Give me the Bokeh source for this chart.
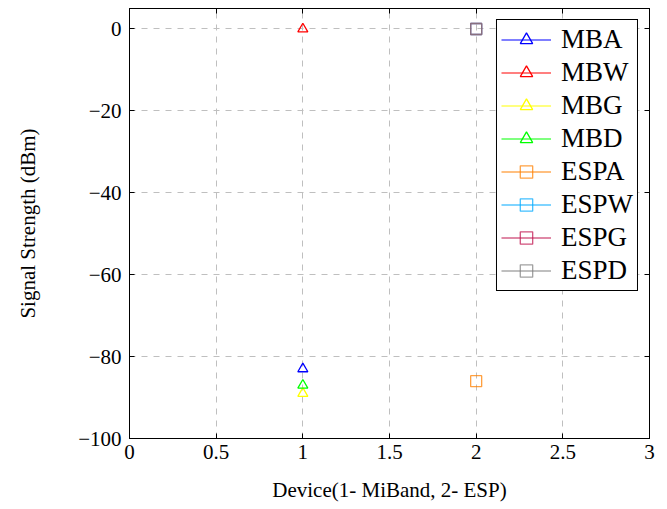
from bokeh.plotting import figure
from bokeh.models import (ColumnDataSource, Legend, LegendItem, LinearAxis, Range1d,
                          CustomJSTickFormatter, FixedTicker)
from bokeh.embed import file_html
from bokeh.resources import INLINE

names = ["MBA", "MBW", "MBG", "MBD", "ESPA", "ESPW", "ESPG", "ESPD"]
xs = [1, 1, 1, 1, 2, 2, 2, 2]
ys = [-83, 0, -89, -87, -86, 0, 0, 0]
colors = ["#0000ff", "#ff0000", "#ffff00", "#00ff00", "#ff8000", "#00aaff", "#c0144f", "#808080"]
markers = ["triangle"] * 4 + ["square"] * 4
x_ticks = [0, 0.5, 1, 1.5, 2, 2.5, 3]
y_ticks = [-100, -80, -60, -40, -20, 0]

FONT = "Liberation Serif"

p = figure(width=660, height=509, output_backend="svg", toolbar_location=None,
           x_range=Range1d(0, 3), y_range=Range1d(-100, 5),
           min_border_left=129, min_border_right=11, min_border_top=8, min_border_bottom=71)
p.outline_line_color = "black"
p.outline_line_width = 1
p.background_fill_color = "white"

for ax in (p.xaxis[0], p.yaxis[0]):
    ax.major_label_text_font = FONT
    ax.major_label_text_font_size = "21px"
    ax.major_label_text_color = "black"
    ax.axis_label_text_font = FONT
    ax.axis_label_text_font_size = "21px"
    ax.axis_label_text_font_style = "normal"
    ax.axis_label_text_color = "black"
    ax.major_tick_in = 5
    ax.major_tick_out = 0
    ax.minor_tick_line_color = None
    ax.axis_line_color = "black"
    ax.major_tick_line_color = "black"

p.xaxis[0].ticker = FixedTicker(ticks=x_ticks)
p.yaxis[0].ticker = FixedTicker(ticks=y_ticks)
p.xaxis[0].axis_label = "Device(1- MiBand, 2- ESP)"
p.yaxis[0].axis_label = "Signal Strength (dBm)"
p.xaxis[0].major_label_standoff = 6
p.yaxis[0].major_label_standoff = 8
p.xaxis[0].axis_label_standoff = 16
p.yaxis[0].axis_label_standoff = 35
p.yaxis[0].formatter = CustomJSTickFormatter(
    code="return tick < 0 ? '\u2212' + Math.abs(tick) : tick.toString();")

top = LinearAxis(ticker=FixedTicker(ticks=x_ticks), major_label_text_alpha=0,
                 major_label_text_font_size="1px", major_tick_in=5, major_tick_out=0,
                 minor_tick_line_color=None, major_label_standoff=0)
right = LinearAxis(ticker=FixedTicker(ticks=y_ticks), major_label_text_alpha=0,
                   major_label_text_font_size="1px", major_tick_in=5, major_tick_out=0,
                   minor_tick_line_color=None, major_label_standoff=0)
p.add_layout(top, "above")
p.add_layout(right, "right")

for g in (p.xgrid[0], p.ygrid[0]):
    g.ticker = FixedTicker(ticks=x_ticks if g is p.xgrid[0] else y_ticks)
    g.grid_line_color = "#bfbfbf"
    g.grid_line_dash = "6 6"
    g.grid_line_width = 1

items = []
for n, x, y, c, m in zip(names, xs, ys, colors, markers):
    src = ColumnDataSource(dict(x=[x], y=[y]))
    ln = p.line("x", "y", source=src, line_color=c, line_width=1.2)
    sc = p.scatter("x", "y", source=src, marker=m, size=11 if m == "square" else 10,
                   fill_color=None, line_color=c, line_width=1.3,
                   line_alpha=0.75 if m == "square" else 1.0)
    items.append(LegendItem(label=n, renderers=[ln, sc]))

legend = Legend(items=items, location="top_right")
legend.label_text_font = FONT
legend.label_text_font_size = "27px"
legend.label_text_color = "black"
legend.border_line_color = "black"
legend.border_line_width = 1
legend.border_line_alpha = 1
legend.background_fill_alpha = 1
legend.glyph_width = 50
legend.glyph_height = 31
legend.label_height = 31
legend.spacing = 2
legend.padding = 4
legend.margin = 11
legend.label_standoff = 10
p.add_layout(legend)

open("out.html", "w").write(file_html(p, INLINE))
